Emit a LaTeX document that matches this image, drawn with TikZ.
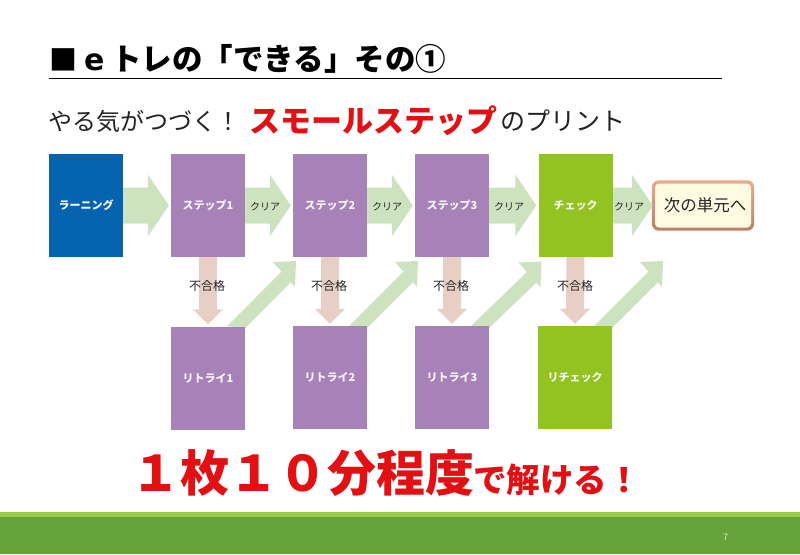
\documentclass[tikz,border=0pt]{standalone}
\usepackage{fontspec}
\setmainfont{Noto Sans CJK JP}
\newfontfamily\latinb{DejaVu Sans}
\usetikzlibrary{calc,backgrounds}
\definecolor{learnblue}{HTML}{0563B0}
\definecolor{steppurple}{HTML}{A682B8}
\definecolor{checkgreen}{HTML}{92C320}
\definecolor{arrowgreen}{HTML}{CDE3BF}
\definecolor{arrowpink}{HTML}{E8CFC6}
\definecolor{barlight}{HTML}{9BCB46}
\definecolor{bardark}{HTML}{66A23A}
\definecolor{textred}{HTML}{E20F13}
\definecolor{cream}{HTML}{FFFBE2}
\definecolor{edgetop}{HTML}{EBA98B}
\definecolor{edgebot}{HTML}{B98069}
\definecolor{labelgray}{HTML}{222222}
\newcommand{\lowered}[1]{\raisebox{-1.5pt}{#1}}
\tikzset{
  stepbox/.style={minimum width=74pt,minimum height=103pt,inner sep=0pt,text=white,font=\fontsize{11}{13}\selectfont\bfseries},
  purplebox/.style={stepbox,fill=steppurple,text=white!90!steppurple},
  greenbox/.style={stepbox,fill=checkgreen,text=white!90!checkgreen},
  bluebox/.style={stepbox,fill=learnblue},
  clearlabel/.style={inner sep=0pt,text=labelgray,font=\fontsize{10}{12}\selectfont},
  faillabel/.style={inner sep=0pt,text=labelgray,font=\fontsize{12}{14}\selectfont},
  headline/.style={anchor=base west,inner sep=0pt},
}
\newcommand{\flowright}[2]{%
  \fill[arrowgreen] ($(#1.east)+(0,-18)$) -- ($(#2.west)+(-23,-18)$) -- ($(#2.west)+(-23,-31)$)
    -- ($(#2.west)+(-2,0)$) -- ($(#2.west)+(-23,31)$) -- ($(#2.west)+(-23,18)$) -- ($(#1.east)+(0,18)$) -- cycle;}
\newcommand{\flowdown}[2]{%
  \fill[arrowpink] ($(#1.south)+(-9,0)$) -- ($(#2.north)+(-9,-17)$) -- ($(#2.north)+(-15,-17)$)
    -- ($(#2.north)+(0,-2)$) -- ($(#2.north)+(15,-17)$) -- ($(#2.north)+(9,-17)$) -- ($(#1.south)+(9,0)$) -- cycle;}
\newcommand{\flowup}[2]{%
  \fill[arrowgreen] ($(#1.north east)+(-18,0)$) -- ($(#2)+(-14.6,10.6)$) -- ($(#2)+(-23,1)$)
    -- (#2) -- ($(#2)+(-1,26)$) -- ($(#2)+(-5.2,21.2)$) -- ($(#1.north east)+(0,2)$) -- cycle;}
\begin{document}
\begin{tikzpicture}[x=1pt,y=-1pt]
\useasboundingbox (0,0) rectangle (800,554);
% footer
\fill[barlight] (0,512) rectangle (800,517);
\fill[bardark] (0,517) rectangle (800,554);
\node[inner sep=0pt,text=white!80!bardark,font=\fontsize{9}{10}\selectfont] (pagenum) at (725.5,537) {7};
% title
\node[headline,font=\fontsize{28}{32}\selectfont\bfseries] (tsq) at (49,70) {■};
\node[headline,font=\fontsize{30}{32}\selectfont\latinb\bfseries] (te) at (84,70) {e};
\node[headline,font=\fontsize{30.5}{34}\selectfont\bfseries] (ttl) at (111,70) {トレの「できる」その①};
\coordinate (rulel) at (49,78.5);
\coordinate (ruler) at (722,78.5);
\draw[line width=1.1pt,black] (rulel) -- (ruler);
% subtitle
\node[headline,font=\fontsize{24}{28}\selectfont,text=labelgray] (sub1) at (48,130) {やる気がつづく！};
\node[headline,font=\fontsize{31}{36}\selectfont\bfseries,text=textred] (sub2) at (249,132) {スモールステップ};
\node[headline,font=\fontsize{25}{28}\selectfont,text=labelgray] (sub3) at (500,130) {のプリント};
% boxes
\node[bluebox] (learn) at (86,205.5) {\lowered{ラーニング}};
\node[purplebox] (s1) at (208,205.5) {\lowered{ステップ1}};
\node[purplebox] (s2) at (330,205.5) {\lowered{ステップ2}};
\node[purplebox] (s3) at (452,205.5) {\lowered{ステップ3}};
\node[greenbox] (chk) at (575.5,205.5) {\lowered{チェック}};
\node[purplebox] (r1) at (208,378) {リトライ1};
\node[purplebox] (r2) at (330,377.5) {リトライ2};
\node[purplebox] (r3) at (452,377.5) {リトライ3};
\node[greenbox] (rchk) at (575,377.5) {リチェック};
\node[minimum width=96pt,minimum height=44pt,inner sep=0pt,rounded corners=4pt,fill=cream,text=labelgray,font=\fontsize{16.5}{20}\selectfont] (next) at (703,205.5) {\hspace*{4pt}\lowered{次の単元へ}};
\coordinate (up1) at (296,261);
\coordinate (up2) at (418,261);
\coordinate (up3) at (541.5,261.5);
\coordinate (up4) at (663,261);
\begin{pgfonlayer}{background}
  \shade[top color=edgetop,bottom color=edgebot,rounded corners=7pt] ($(next.north west)+(-3,-3)$) rectangle ($(next.south east)+(3,3)$);
  \flowright{learn}{s1}
  \flowright{s1}{s2}
  \flowright{s2}{s3}
  \flowright{s3}{chk}
  \flowright{chk}{next}
  \flowdown{s1}{r1}
  \flowdown{s2}{r2}
  \flowdown{s3}{r3}
  \flowdown{chk}{rchk}
  \flowup{r1}{up1}
  \flowup{r2}{up2}
  \flowup{r3}{up3}
  \flowup{rchk}{up4}
\end{pgfonlayer}
% labels on arrows
\node[clearlabel] (c1) at (265,206.5) {クリア};
\node[clearlabel] (c2) at (387,206.5) {クリア};
\node[clearlabel] (c3) at (509,206.5) {クリア};
\node[clearlabel] (c4) at (629,206.5) {クリア};
\node[faillabel] (f1) at (207,285.5) {不合格};
\node[faillabel] (f2) at (329,285.5) {不合格};
\node[faillabel] (f3) at (451,285.5) {不合格};
\node[faillabel] (f4) at (575,285.5) {不合格};
% bottom
\node[headline,font=\fontsize{49}{54}\selectfont\bfseries,text=textred] (big1) at (131,491) {１枚１０分程度};
\node[headline,font=\fontsize{33.5}{38}\selectfont\bfseries,text=textred] (big2) at (473,492) {で解ける！};
\end{tikzpicture}
\end{document}
